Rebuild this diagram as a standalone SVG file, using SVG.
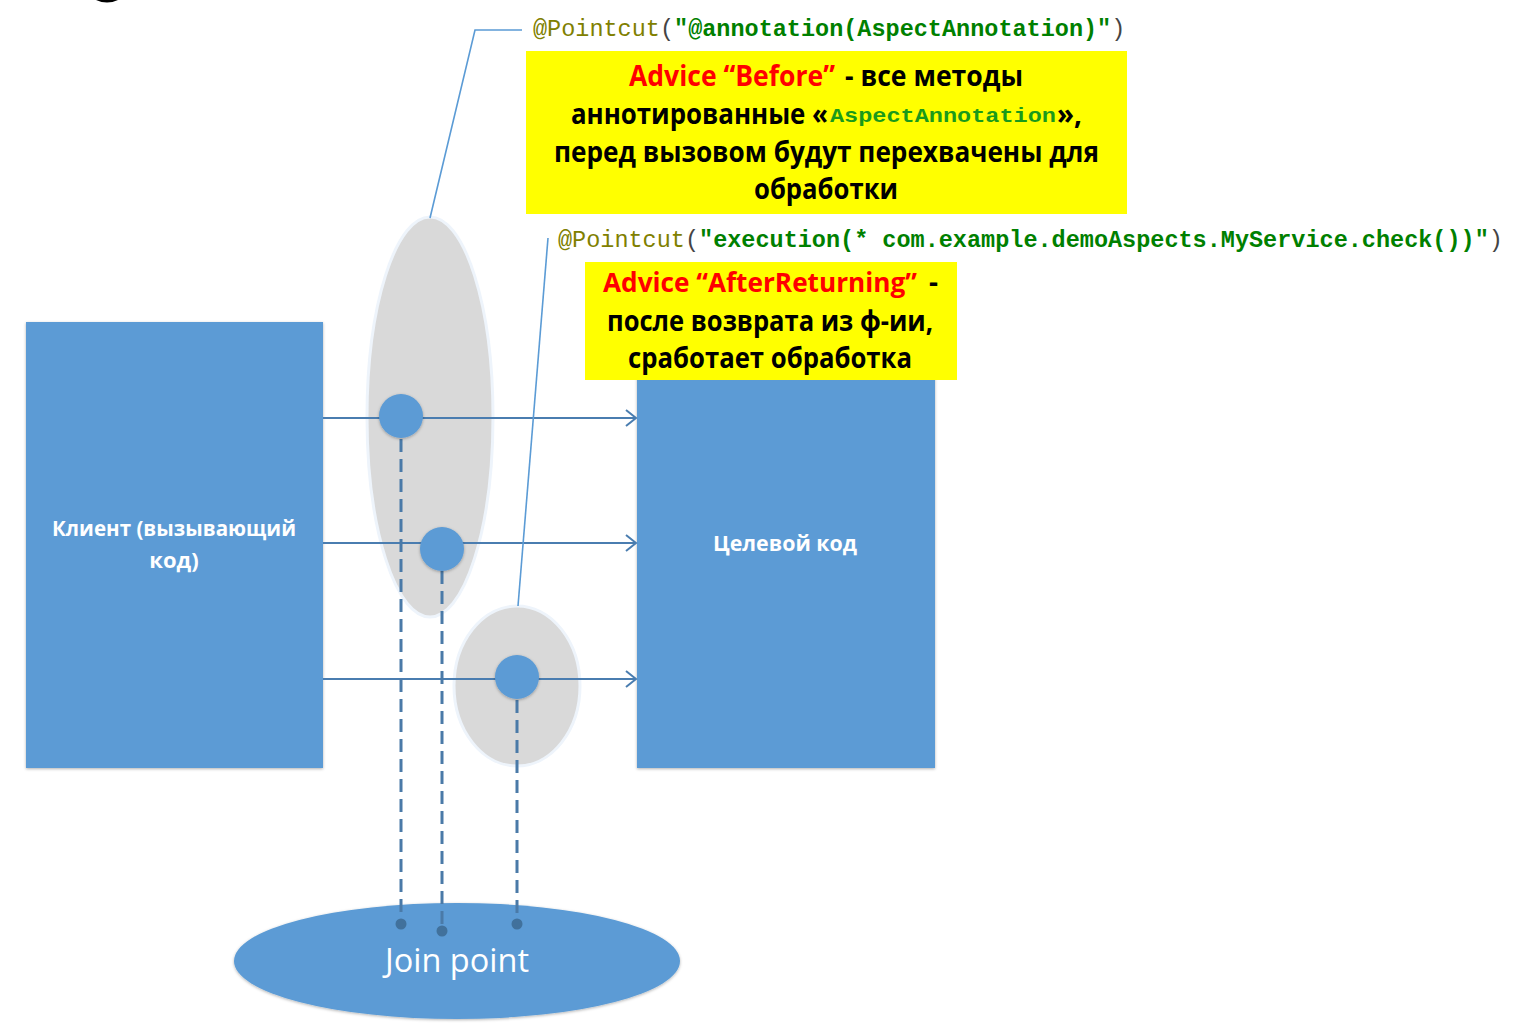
<svg xmlns="http://www.w3.org/2000/svg" width="1530" height="1028" viewBox="0 0 1530 1028">
<style>
.box{fill:#5b9bd5;filter:url(#sh)}
.grey{fill:#d9d9d9;stroke:#eef4fb;stroke-width:3}
.dot{fill:#5b9bd5;filter:url(#sh)}
.yel{fill:#ffff00}
.lead{fill:none;stroke:#5b9bd5;stroke-width:1.6}
.arr{fill:none;stroke:#4a7db0;stroke-width:2;marker-end:url(#open)}
.dash{fill:none;stroke:#4a7aa8;stroke-width:3;stroke-dasharray:13 7}
.end{fill:#41719c}
.cap{font-family:"Open Sans","Noto Sans","DejaVu Sans",sans-serif;font-weight:bold;font-size:28px;fill:#000}
.red{fill:#ff0000}
.mono{font-family:"Liberation Mono","Courier New",monospace;font-size:23.5px}
.olive{fill:#808000}
.grn{fill:#008000;font-weight:bold}
.wt{font-family:"Open Sans","Noto Sans","DejaVu Sans",sans-serif;fill:#fff}
</style>
<defs>
<marker id="open" markerWidth="14" markerHeight="20" refX="12" refY="9" orient="auto" markerUnits="userSpaceOnUse">
<path d="M2,1 L12,9 L2,17" fill="none" stroke="#4a7db0" stroke-width="2"/>
</marker>
<filter id="sh" x="-10%" y="-10%" width="120%" height="120%">
<feDropShadow dx="0" dy="1" stdDeviation="1.5" flood-color="#000" flood-opacity="0.3"/>
</filter>
</defs>
<rect width="1530" height="1028" fill="#fff"/>
<path d="M96,0 Q107,5 118,0 Z" fill="#000"/>

<g id="client"><rect class="box" x="26" y="322" width="297" height="446"/>
<text class="wt" font-weight="bold" font-size="22" text-anchor="middle"><tspan x="174" y="536" textLength="244" lengthAdjust="spacingAndGlyphs">Клиент (вызывающий</tspan><tspan x="174" y="568">код)</tspan></text></g>

<g id="target"><rect class="box" x="637" y="322" width="298" height="446"/>
<text class="wt" font-weight="bold" font-size="22" x="785" y="551" text-anchor="middle" textLength="144" lengthAdjust="spacingAndGlyphs">Целевой код</text></g>

<g id="pointcut-before"><ellipse class="grey" cx="430" cy="417" rx="63" ry="200"/></g>
<g id="pointcut-after"><ellipse class="grey" cx="517" cy="686" rx="63" ry="80"/></g>

<g id="joinpoint"><ellipse cx="457" cy="961" rx="223" ry="58" fill="#5b9bd5" filter="url(#sh)"/>
<text class="wt" font-size="33" x="457" y="972" text-anchor="middle" textLength="144" lengthAdjust="spacingAndGlyphs">Join point</text></g>

<g id="connectors">
<line class="arr" x1="323" y1="418" x2="636" y2="418"/>
<line class="arr" x1="323" y1="543" x2="636" y2="543"/>
<line class="arr" x1="323" y1="679" x2="636" y2="679"/>
<line class="dash" x1="401" y1="439" x2="401" y2="924"/>
<line class="dash" x1="442" y1="571" x2="442" y2="931"/>
<line class="dash" x1="517" y1="700" x2="517" y2="924"/>
<circle class="end" cx="401" cy="924" r="5.5"/>
<circle class="end" cx="442" cy="931" r="5.5"/>
<circle class="end" cx="517" cy="924" r="5.5"/>
<polyline class="lead" points="430,218 475,30 522,30"/>
<line class="lead" x1="518" y1="606" x2="548" y2="238"/>
</g>

<g id="jp1"><circle class="dot" cx="401" cy="416" r="22"/></g>
<g id="jp2"><circle class="dot" cx="442" cy="549" r="22"/></g>
<g id="jp3"><circle class="dot" cx="517" cy="677" r="22"/></g>

<g id="pointcut1-label"><text class="mono" y="36"><tspan x="533" class="olive">@Pointcut</tspan><tspan fill="#444">(</tspan><tspan class="grn">"@annotation(AspectAnnotation)"</tspan><tspan fill="#444">)</tspan></text></g>
<g id="pointcut2-label"><text class="mono" y="247"><tspan x="558" class="olive">@Pointcut</tspan><tspan fill="#444">(</tspan><tspan class="grn">"execution(* com.example.demoAspects.MyService.check())"</tspan><tspan fill="#444">)</tspan></text></g>

<g id="advice-before"><rect class="yel" x="526" y="51" width="601" height="163"/>
<text class="cap red" x="629" y="86" textLength="206" lengthAdjust="spacingAndGlyphs">Advice “Before”</text>
<text class="cap" x="845" y="86" textLength="178" lengthAdjust="spacingAndGlyphs">- все методы</text>
<text class="cap" x="571" y="124" textLength="257" lengthAdjust="spacingAndGlyphs">аннотированные «</text>
<text class="mono grn" x="830" y="122" textLength="226" lengthAdjust="spacingAndGlyphs" style="fill:#1a9a1a;font-size:21px">AspectAnnotation</text>
<text class="cap" x="1057" y="124" textLength="25" lengthAdjust="spacingAndGlyphs">»,</text>
<text class="cap" x="554" y="162" textLength="545" lengthAdjust="spacingAndGlyphs">перед вызовом будут перехвачены для</text>
<text class="cap" x="754" y="199" textLength="144" lengthAdjust="spacingAndGlyphs">обработки</text>
</g>

<g id="advice-after"><rect class="yel" x="585" y="262" width="372" height="118"/>
<text class="cap red" x="603" y="292" style="font-size:26.2px">Advice “AfterReturning”</text>
<text class="cap" x="938" y="292" text-anchor="end">-</text>
<text class="cap" x="607" y="331" textLength="326" lengthAdjust="spacingAndGlyphs">после возврата из ф-ии,</text>
<text class="cap" x="628" y="368" textLength="284" lengthAdjust="spacingAndGlyphs">сработает обработка</text>
</g>
</svg>
